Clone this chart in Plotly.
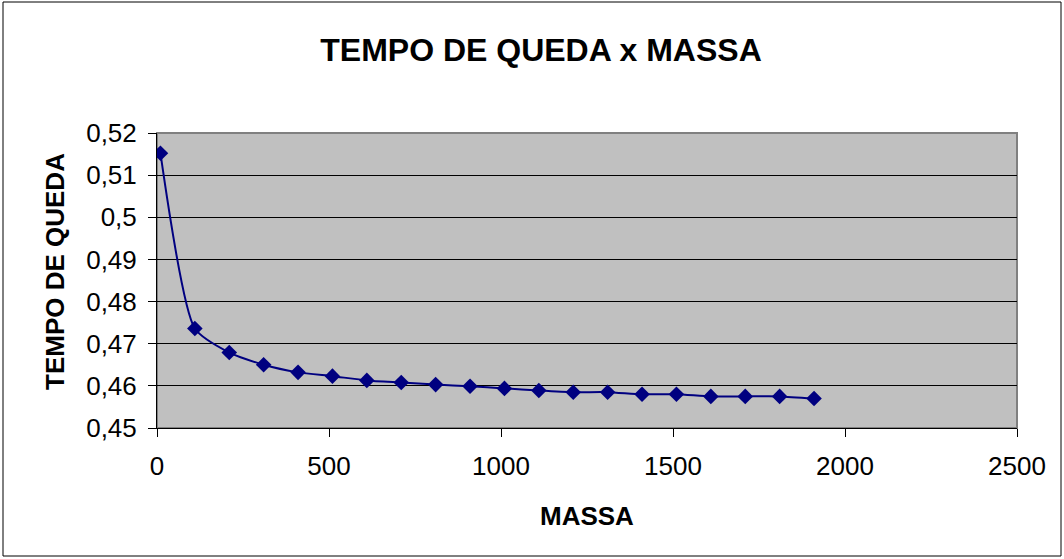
import plotly.graph_objects as go

# Falling time measured for each mass
massa = [10, 110, 210, 310, 410, 510, 610, 710, 810, 910,
         1010, 1110, 1210, 1310, 1410, 1510, 1610, 1710, 1810, 1910]
tempo = [0.5152, 0.4736, 0.4679, 0.4650, 0.4632, 0.4623, 0.4613, 0.4608, 0.4603, 0.4599,
         0.4594, 0.4589, 0.4585, 0.4585, 0.4580, 0.4580, 0.4575, 0.4575, 0.4575, 0.4570]

y_ticks = [0.45, 0.46, 0.47, 0.48, 0.49, 0.50, 0.51, 0.52]
y_labels = ["0,45", "0,46", "0,47", "0,48", "0,49", "0,5", "0,51", "0,52"]
x_ticks = [0, 500, 1000, 1500, 2000, 2500]
x_labels = ["0", "500", "1000", "1500", "2000", "2500"]

W, H = 1064, 559
L, R, T, B = 157, 47, 133, 131
pw, ph = W - L - R, H - T - B


def px_x(px):
    """Horizontal page pixel -> paper coordinate."""
    return (px - L) / pw


def px_y(px):
    """Vertical page pixel (from top) -> paper coordinate."""
    return (H - B - px) / ph


fig = go.Figure()
fig.add_trace(go.Scatter(
    x=massa, y=tempo, mode="lines+markers",
    line=dict(color="#000080", width=2, shape="spline", smoothing=0.6),
    marker=dict(symbol="diamond", size=12, color="#000080"),
    showlegend=False,
))

font = "Liberation Sans, Arial, sans-serif"
fig.update_layout(
    width=W, height=H,
    margin=dict(l=L, r=R, t=T, b=B),
    paper_bgcolor="white",
    plot_bgcolor="#C0C0C0",
    font=dict(family=font, color="black", size=26),
    title=dict(text="<b>TEMPO DE QUEDA x MASSA</b>", x=541 / W, xanchor="center",
               y=1 - 50 / H, yanchor="middle", font=dict(size=32)),
    xaxis=dict(
        range=[0, 2500], tickvals=x_ticks, ticktext=x_labels,
        showgrid=False, zeroline=False, showline=True, linecolor="black", linewidth=1,
        ticks="outside", ticklen=8, tickcolor="black", ticklabelstandoff=7,
    ),
    yaxis=dict(
        range=[0.45, 0.52], tickvals=y_ticks, ticktext=y_labels,
        showgrid=True, gridcolor="black", gridwidth=1, zeroline=False,
        showline=True, linecolor="black", linewidth=1,
        ticks="outside", ticklen=8, tickcolor="black", ticklabelstandoff=6,
    ),
    annotations=[
        dict(text="<b>MASSA</b>", xref="paper", yref="paper",
             x=px_x(587), y=px_y(516), xanchor="center", yanchor="middle",
             showarrow=False, font=dict(size=26)),
        dict(text="<b>TEMPO DE QUEDA</b>", xref="paper", yref="paper",
             x=px_x(55), y=px_y(272), xanchor="center", yanchor="middle",
             textangle=-90, showarrow=False, font=dict(size=26)),
    ],
    shapes=[
        # plot area frame
        dict(type="rect", xref="paper", yref="paper", x0=0, y0=0, x1=1, y1=1,
             line=dict(color="#808080", width=2), layer="below"),
        # outer chart border
        dict(type="rect", xref="paper", yref="paper",
             x0=px_x(3), x1=px_x(1061), y0=px_y(556), y1=px_y(2),
             line=dict(color="black", width=1)),
    ],
)

fig.write_html("out.html")
